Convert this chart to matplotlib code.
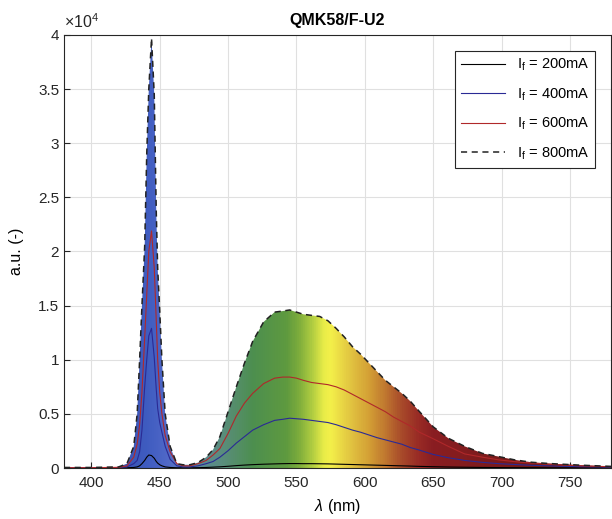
import numpy as np
import matplotlib
matplotlib.use("Agg")
import matplotlib.pyplot as plt
from matplotlib.colors import LinearSegmentedColormap
from matplotlib.ticker import FuncFormatter, MultipleLocator

plt.rcParams["font.family"] = ["Liberation Sans", "DejaVu Sans"]
plt.rcParams["mathtext.fontset"] = "custom"
plt.rcParams["mathtext.rm"] = "Liberation Sans"
plt.rcParams["mathtext.it"] = "Liberation Sans:italic"

# wavelength grid (nm) and spectra (a.u.)
wl = [380, 400, 420, 426, 431, 433.5, 435.3, 437, 439, 440.5, 442, 444, 446, 447.5,
      448.5, 450, 451.6, 454, 457.6, 462.5, 467, 472, 478, 484, 489, 494, 500, 506,
      512, 518, 526, 534, 540, 545, 550, 555, 561, 567, 573, 579, 585, 591, 597, 603,
      609, 615, 621, 627, 633, 640, 650, 661, 673, 686, 698, 710, 722, 734, 746, 758,
      770, 780]

i200 = [10, 10, 10, 20, 50, 100, 200, 400, 700, 1000, 1200, 1150, 900, 600,
        450, 300, 200, 100, 50, 20, 20, 20, 30, 50, 80, 110, 160, 220,
        270, 310, 350, 380, 400, 410, 410, 400, 400, 390, 380, 360, 340, 320, 300, 280,
        260, 240, 220, 200, 180, 150, 120, 90, 70, 50, 40, 30, 30, 20, 20, 10,
        10, 10]

i400 = [20, 20, 40, 100, 400, 700, 1500, 3500, 7500, 10000, 12200, 12900, 10200, 7200,
        5500, 4200, 3300, 2000, 800, 200, 100, 100, 200, 400, 600, 1000, 1600, 2300,
        2900, 3500, 4000, 4400, 4500, 4600, 4550, 4500, 4400, 4300, 4200, 4000, 3750, 3500, 3300, 3050,
        2800, 2600, 2400, 2200, 1900, 1650, 1250, 950, 700, 520, 400, 320, 250, 200, 150, 120,
        100, 80]

i600 = [30, 30, 60, 200, 1000, 2200, 4000, 7000, 12000, 16000, 20000, 21900, 18500, 13500,
        10000, 7000, 5000, 3000, 1500, 400, 200, 200, 400, 700, 1200, 1800, 3200, 4800,
        6000, 6900, 7800, 8300, 8400, 8400, 8300, 8100, 7900, 7800, 7700, 7500, 7200, 6800, 6400, 6000,
        5600, 5200, 4700, 4300, 3900, 3300, 2700, 2000, 1300, 1000, 750, 580, 450, 350, 270, 200,
        150, 120]

i800 = [50, 50, 100, 400, 2000, 5000, 10000, 15000, 20500, 29000, 35000, 39700, 34500, 23500,
        18500, 14500, 10000, 5000, 2000, 400, 300, 300, 500, 1000, 1700, 2900, 5200, 7500,
        9700, 11700, 13500, 14400, 14500, 14600, 14400, 14200, 14100, 14000, 13600, 12900, 12100, 11200, 10500, 9700,
        8900, 8100, 7500, 6900, 6200, 5200, 3800, 2750, 2000, 1350, 1050, 740, 530, 420, 340, 260,
        200, 150]

labels = ["$\\mathregular{I_f}$ = 200mA", "$\\mathregular{I_f}$ = 400mA",
          "$\\mathregular{I_f}$ = 600mA", "$\\mathregular{I_f}$ = 800mA"]

# spectral colour stops used for the gradient fill under the 800mA curve
stop_wl = [380, 425, 440, 455, 462, 475, 494, 518, 543, 552, 560, 570, 575, 591,
           603, 615, 627, 640, 650, 700, 780]
stop_col = ["#2f3f95", "#3b55b5", "#3f5cc0", "#5068c8", "#5577c0", "#5a8a9a", "#5b8d80",
            "#4d8f4f", "#5f9a3f", "#7fae3c", "#a8c840", "#e8ec48", "#f4f04a", "#e0c040",
            "#d4a035", "#c07830", "#a84a2a", "#982a25", "#8a1e22", "#7a1a1a", "#601212"]

fig = plt.figure(figsize=(6.12, 5.19), dpi=100)
ax = fig.add_axes([64 / 612, 51 / 519, 547 / 612, 433 / 519])

xmin, xmax, ymax = 380, 780, 40000
pos = [(w - xmin) / (xmax - xmin) for w in stop_wl]
cmap = LinearSegmentedColormap.from_list("spec", list(zip(pos, stop_col)))
grad = np.linspace(0, 1, 800).reshape(1, -1)
im = ax.imshow(grad, cmap=cmap, aspect="auto", extent=[xmin, xmax, 0, ymax],
               origin="lower", zorder=1, interpolation="bilinear")
poly = ax.fill_between(wl, 0, i800, color="none", lw=0)
im.set_clip_path(poly.get_paths()[0], transform=ax.transData)

ax.plot(wl, i200, color="black", lw=0.8, label=labels[0], zorder=3)
ax.plot(wl, i400, color="#2a2a95", lw=0.8, label=labels[1], zorder=3)
ax.plot(wl, i600, color="#b0282a", lw=0.8, label=labels[2], zorder=3)
ax.plot(wl, i800, color="#222222", lw=1.1, ls=(0, (4, 3)), label=labels[3], zorder=4)

ax.set_xlim(xmin, xmax)
ax.set_ylim(0, ymax)
ax.xaxis.set_major_locator(MultipleLocator(50))
ax.yaxis.set_major_locator(MultipleLocator(5000))
ax.yaxis.set_major_formatter(FuncFormatter(lambda v, p: f"{v / 1e4:g}"))
ax.grid(True, color="#e0e0e0", lw=0.8, zorder=0)
ax.set_axisbelow(True)
ax.tick_params(direction="in", length=4, labelsize=11, colors="#262626")
ax.tick_params(axis="x", pad=6)
for s in ax.spines.values():
    s.set_color("#262626")
    s.set_linewidth(0.8)

ax.text(0, 1.01, "$\\times\\mathregular{10^4}$", transform=ax.transAxes,
        ha="left", va="bottom", fontsize=11.5, color="#262626")
ax.set_title("QMK58/F-U2", fontsize=11.5, fontweight="bold", pad=7)
ax.set_xlabel("$\\lambda$ (nm)", fontsize=11.5, labelpad=5)
ax.set_ylabel("a.u. (-)", fontsize=11.5, labelpad=10)

leg = ax.legend(loc="upper right", fontsize=10.5, handlelength=3.0, labelspacing=0.9,
                borderaxespad=1.1, fancybox=False, framealpha=1, edgecolor="#262626")
leg.get_frame().set_linewidth(0.8)

fig.savefig("out.png", dpi=100)
